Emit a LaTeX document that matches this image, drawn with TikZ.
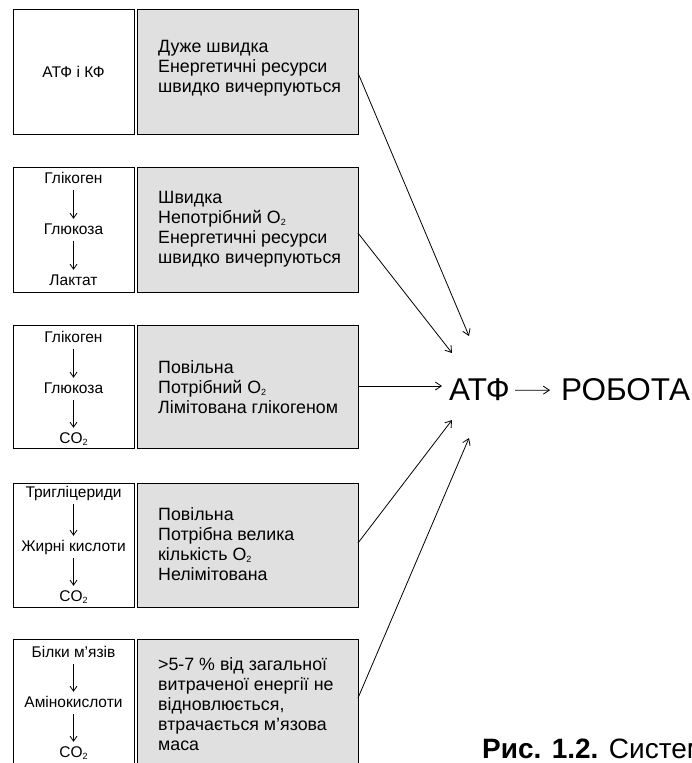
\documentclass[tikz,border=0pt]{standalone}
\usepackage{fontspec}
\setmainfont{Liberation Sans}
\usetikzlibrary{arrows.meta}
\definecolor{boxgray}{RGB}{224,224,224}
\newcommand{\subtwo}{\raisebox{-2.5pt}{\fontsize{9}{9}\selectfont 2}}
\tikzset{
  cell/.style={draw=black, line width=0.9pt},
  gcell/.style={draw=black, fill=boxgray, line width=0.9pt},
  tx/.style={font=\fontsize{17.8}{20}\selectfont, anchor=base west, inner sep=0pt},
  sm/.style={font=\fontsize{15.5}{17}\selectfont, anchor=base, inner sep=0pt, text height=10pt, text depth=3pt},
  sarr/.style={-{Straight Barb[length=5pt,width=7pt]}, line width=0.8pt, shorten <=4pt, shorten >=5pt},
  barr/.style={-{Straight Barb[length=6pt,width=8pt]}, line width=0.8pt},
  big/.style={font=\fontsize{31.5}{34}\selectfont, anchor=base west, inner sep=0pt},
}
\begin{document}
\begin{tikzpicture}[x=1pt, y=-1pt]
\useasboundingbox (0,0) rectangle (691,763);
\clip (0,0) rectangle (691,763);
\fill[white] (0,0) rectangle (691,763);

% ---------- box 1
\draw[cell] (13,9) rectangle (134,134);
\draw[gcell] (137,9) rectangle (358,134);
\node[sm] (a1) at (73.5,77) {АТФ і КФ};
\node[tx] (t11) at (158,52) {Дуже швидка};
\node[tx] (t12) at (158,72) {Енергетичні ресурси};
\node[tx] (t13) at (158,92) {швидко вичерпуються};

% ---------- box 2
\draw[cell] (13,167) rectangle (134,292);
\draw[gcell] (137,167) rectangle (358,292);
\node[sm] (b1) at (73.5,183) {Глікоген};
\node[sm] (b2) at (73.5,234) {Глюкоза};
\node[sm] (b3) at (73.5,285) {Лактат};
\draw[sarr] (b1.south) -- (b2.north);
\draw[sarr] (b2.south) -- (b3.north);
\node[tx] (t21) at (158,203) {Швидка};
\node[tx] (t22) at (158,223) {Непотрібний O\subtwo};
\node[tx] (t23) at (158,243) {Енергетичні ресурси};
\node[tx] (t24) at (158,263) {швидко вичерпуються};

% ---------- box 3
\draw[cell] (13,325) rectangle (134,448);
\draw[gcell] (137,325) rectangle (358,448);
\node[sm] (c1) at (73.5,342) {Глікоген};
\node[sm] (c2) at (73.5,393) {Глюкоза};
\node[sm] (c3) at (73.5,443) {CO\subtwo};
\draw[sarr] (c1.south) -- (c2.north);
\draw[sarr] (c2.south) -- (c3.north);
\node[tx] (t31) at (158,373) {Повільна};
\node[tx] (t32) at (158,393) {Потрібний O\subtwo};
\node[tx] (t33) at (158,413) {Лімітована глікогеном};

% ---------- box 4
\draw[cell] (13,483) rectangle (134,607);
\draw[gcell] (137,483) rectangle (358,607);
\node[sm] (d1) at (73.5,497) {Тригліцериди};
\node[sm] (d2) at (73.5,551) {Жирні кислоти};
\node[sm] (d3) at (73.5,601) {CO\subtwo};
\draw[sarr] (d1.south) -- (d2.north);
\draw[sarr] (d2.south) -- (d3.north);
\node[tx] (t41) at (158,520) {Повільна};
\node[tx] (t42) at (158,540) {Потрібна велика};
\node[tx] (t43) at (158,560) {кількість O\subtwo};
\node[tx] (t44) at (158,580) {Нелімітована};

% ---------- box 5
\draw[cell] (13,639) rectangle (134,770);
\draw[gcell] (137,639) rectangle (358,770);
\node[sm] (e1) at (73.5,657) {Білки м’язів};
\node[sm] (e2) at (73.5,707) {Амінокислоти};
\node[sm] (e3) at (73.5,757) {CO\subtwo};
\draw[sarr] (e1.south) -- (e2.north);
\draw[sarr] (e2.south) -- (e3.north);
\node[tx] (t51) at (158,670) {>5-7 \% від загальної};
\node[tx] (t52) at (158,690) {витраченої енергії не};
\node[tx] (t53) at (158,710) {відновлюється,};
\node[tx] (t54) at (158,730) {втрачається м’язова};
\node[tx] (t55) at (158,750) {маса};

% ---------- ATF / work
\node[big] (atf) at (449,400) {АТФ};
\node[big] (rob) at (561,400) {РОБОТА};
\draw[barr] ([xshift=5pt,yshift=-1pt]atf.east) -- ([xshift=-11pt,yshift=-1pt]rob.west);

% ---------- connectors
\coordinate (s1) at (358,73);
\coordinate (s2) at (358,233);
\coordinate (s3) at (358,386);
\coordinate (s4) at (358,543);
\coordinate (s5) at (358,698);
\coordinate (h1) at (469,336);
\coordinate (h2) at (452,353);
\coordinate (h3) at (442,386);
\coordinate (h4) at (452,420);
\coordinate (h5) at (469,438);
\draw[barr] (s1) -- (h1);
\draw[barr] (s2) -- (h2);
\draw[barr] (s3) -- (h3);
\draw[barr] (s4) -- (h4);
\draw[barr] (s5) -- (h5);

% ---------- caption (cut off at the right edge, as in the reference)
\node[font=\fontsize{28}{30}\selectfont, anchor=base west, inner sep=0pt] (cap) at (482,758) {\textbf{Рис. 1.2.} Системи};
\end{tikzpicture}
\end{document}
